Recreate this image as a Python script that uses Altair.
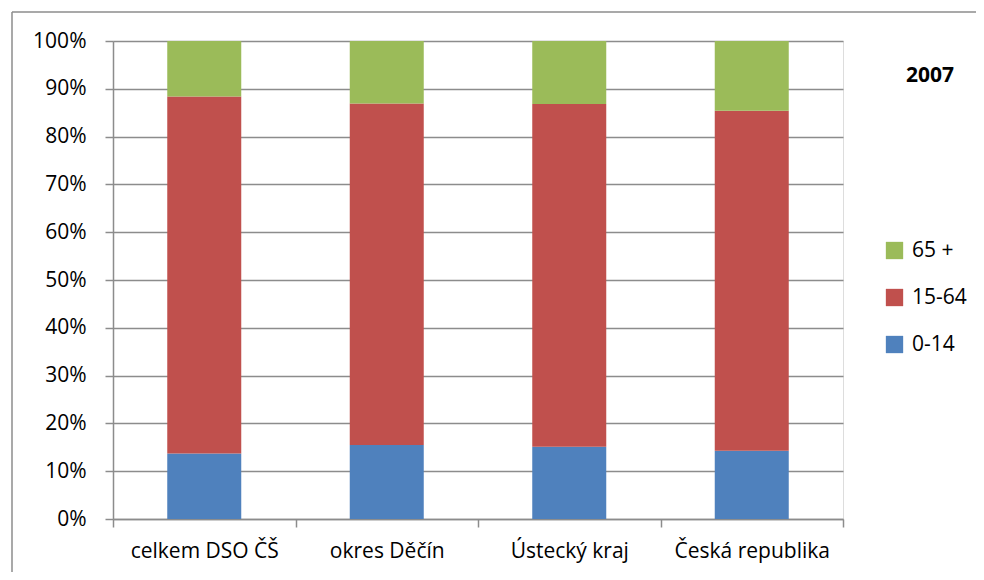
import altair as alt
import pandas as pd

categories = ["celkem DSO ČŠ", "okres Děčín", "Ústecký kraj", "Česká republika"]
groups = ["0-14", "15-64", "65 +"]
share_0_14 = [13.7, 15.5, 15.1, 14.3]
share_15_64 = [74.7, 71.4, 71.7, 71.1]
share_65 = [11.6, 13.1, 13.2, 14.6]
colors = ["#4F81BD", "#C0504D", "#9BBB59"]
year_label = "2007"

rows = []
for i, c in enumerate(categories):
    for k, (g, vals) in enumerate(zip(groups, [share_0_14, share_15_64, share_65])):
        rows.append({"kategorie": c, "skupina": g, "hodnota": vals[i], "poradi": k})
df = pd.DataFrame(rows)

FONT = "Open Sans"
FS = 21
GRID = "#8C8C8C"

bars = alt.Chart(df).mark_bar(size=74).encode(
    x=alt.X("kategorie:N", sort=categories, title=None,
            scale=alt.Scale(paddingInner=0, paddingOuter=0),
            axis=alt.Axis(labelAngle=0, tickBand="extent", tickSize=8, tickColor=GRID,
                          domainColor=GRID, domainWidth=1.5, tickWidth=1.5,
                          labelFont=FONT, labelFontSize=FS, labelColor="#000000",
                          labelPadding=13, grid=False)),
    y=alt.Y("hodnota:Q", stack="normalize", title=None,
            scale=alt.Scale(domain=[0, 1]),
            axis=alt.Axis(format=".0%", values=[i / 10 for i in range(11)],
                          tickSize=8, tickColor=GRID, domainColor=GRID, domainWidth=1.5,
                          tickWidth=1.5, gridColor=GRID, gridWidth=1.5,
                          labelFont=FONT, labelFontSize=FS, labelColor="#000000",
                          labelPadding=19)),
    color=alt.Color("skupina:N",
                    scale=alt.Scale(domain=["65 +", "15-64", "0-14"],
                                    range=[colors[2], colors[1], colors[0]]),
                    legend=alt.Legend(title=None, orient="none", legendX=771, legendY=199,
                                      symbolType="square", symbolSize=300,
                                      symbolStrokeWidth=0, rowPadding=25,
                                      labelFont=FONT, labelFontSize=FS, labelColor="#000000",
                                      labelOffset=7)),
    order=alt.Order("poradi:Q", sort="ascending"),
)

title_txt = alt.Chart(pd.DataFrame({"t": [year_label]})).mark_text(
    font=FONT, fontSize=FS, fontWeight="bold", align="left", baseline="middle", color="#000000"
).encode(x=alt.value(793), y=alt.value(35), text="t:N")

border_left = alt.Chart(pd.DataFrame({"a": [0]})).mark_rule(
    stroke="#8C8C8C", strokeWidth=1.5
).encode(x=alt.value(-101), y=alt.value(-29), y2=alt.value(600))

border_top = alt.Chart(pd.DataFrame({"a": [0]})).mark_rule(
    stroke="#8C8C8C", strokeWidth=1.5
).encode(y=alt.value(-29), x=alt.value(-101), x2=alt.value(863))

chart = alt.layer(border_left, border_top, bars, title_txt).properties(
    width=730, height=478,
    autosize=alt.AutoSizeParams(type="none"),
    padding={"left": 105, "top": 33, "right": 133, "bottom": 53},
).configure_view(stroke=None).configure(background="white")

chart.save("out.html", embed_options={"renderer": "svg", "actions": False})
